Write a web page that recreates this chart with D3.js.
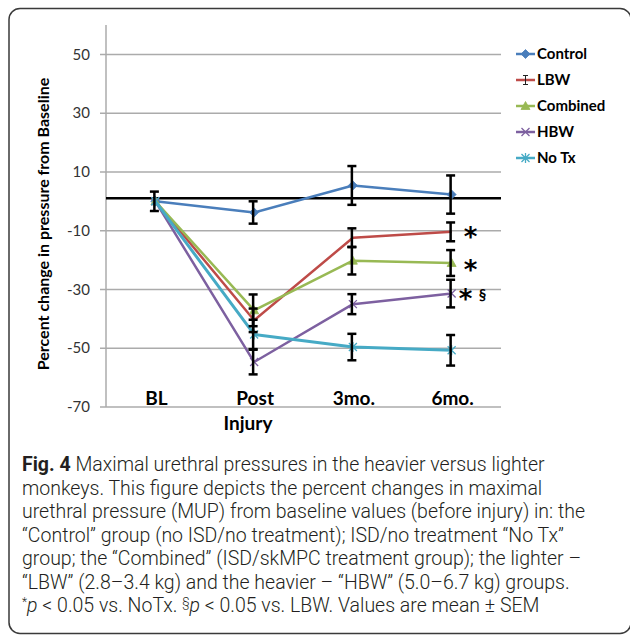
<!DOCTYPE html>
<html>
<head>
<meta charset="utf-8">
<script src="https://cdn.jsdelivr.net/npm/d3@7/dist/d3.min.js"></script>
<style>
  html, body { margin: 0; padding: 0; background: #fff; }
  svg { display: block; }
</style>
</head>
<body>
<svg id="chart" width="630" height="638"></svg>
<script>
// ---- data ----
const categories = ["BL", "Post", "3mo.", "6mo."];
const seriesNames = ["Control", "LBW", "Combined", "HBW", "No Tx"];
const controlValues  = [0, -3.8, 5.4, 2.3];
const controlErr     = [3.3, 3.8, 6.6, 6.5];
const lbwValues      = [0, -40.5, -12.4, -10.4];
const lbwErr         = [0, 4.0, 3.2, 3.2];
const combinedValues = [0, -37.1, -20.2, -21.0];
const combinedErr    = [0, 5.4, 4.7, 4.4];
const hbwValues      = [0, -54.7, -35.0, -31.4];
const hbwErr         = [0, 4.2, 3.4, 4.7];
const noTxValues     = [0, -45.3, -49.6, -50.7];
const noTxErr        = [0, 5.0, 4.5, 5.2];
const yTicks = [-70, -50, -30, -10, 10, 30, 50];
const yDomain = [-70, 60];
const refLineValue = 1;
const annotationSeries = ["LBW", "Combined", "HBW"];
const annotationText = ["*", "*", "*"];
const annotationExtra = ["", "", "§"];
const yTitle = "Percent change in pressure from Baseline";
const xTitle = "Injury";
const captionLines = [
  [{t:"Fig. 4", b:true}, {t:" Maximal urethral pressures in the heavier versus lighter"}],
  [{t:"monkeys. This figure depicts the percent changes in maximal"}],
  [{t:"urethral pressure (MUP) from baseline values (before injury) in: the"}],
  [{t:"\u201CControl\u201D group (no ISD/no treatment); ISD/no treatment \u201CNo Tx\u201D"}],
  [{t:"group; the \u201CCombined\u201D (ISD/skMPC treatment group); the lighter \u2013"}],
  [{t:"\u201CLBW\u201D (2.8\u20133.4 kg) and the heavier \u2013 \u201CHBW\u201D (5.0\u20136.7 kg) groups."}],
  [{t:"*", sup:true}, {t:"p", i:true}, {t:" < 0.05 vs. NoTx. "}, {t:"\u00A7", sup:true}, {t:"p", i:true}, {t:" < 0.05 vs. LBW. Values are mean \u00B1 SEM"}]
];

// ---- styles ----
const colors = {"Control":"#4A7EBB","LBW":"#BE4B48","Combined":"#98B954","HBW":"#7D60A0","No Tx":"#46AAC5"};
const markers = {"Control":"diamond","LBW":"none","Combined":"triangle","HBW":"x","No Tx":"star"};
const widths = {"Control":2.5,"LBW":2.5,"Combined":2.5,"HBW":2.5,"No Tx":3};

const series = [
  {name:"Control", values:controlValues, err:controlErr},
  {name:"LBW", values:lbwValues, err:lbwErr},
  {name:"Combined", values:combinedValues, err:combinedErr},
  {name:"HBW", values:hbwValues, err:hbwErr},
  {name:"No Tx", values:noTxValues, err:noTxErr}
];

const svg = d3.select("#chart");
const chartFont = "Lato, 'Open Sans', sans-serif";

// outer frame
svg.append("rect").attr("x", 9).attr("y", 8.5).attr("width", 622).attr("height", 625)
  .attr("rx", 11).attr("fill", "#fff").attr("stroke", "#3a3a3a").attr("stroke-width", 1.5);

const plot = {left: 106, right: 501, top: 25, bottom: 407};
const x = d3.scalePoint().domain(categories).range([plot.left, plot.right]).padding(0.5);
const y = d3.scaleLinear().domain(yDomain).range([plot.bottom, plot.top]);

// gridlines
svg.append("g").selectAll("line").data(yTicks).join("line")
  .attr("x1", plot.left - 6).attr("x2", plot.right)
  .attr("y1", d => y(d)).attr("y2", d => y(d))
  .attr("stroke", "#ABABAB").attr("stroke-width", 1.5);

// y axis line
svg.append("line").attr("x1", plot.left).attr("x2", plot.left)
  .attr("y1", plot.top).attr("y2", plot.bottom)
  .attr("stroke", "#ABABAB").attr("stroke-width", 1.5);

// y tick labels
svg.append("g").selectAll("text").data(yTicks).join("text")
  .attr("x", 90).attr("y", d => y(d)).attr("dy", "0.35em")
  .attr("text-anchor", "end").attr("font-family", chartFont).attr("font-size", 15)
  .attr("fill", "#333").text(d => d);

// reference line
svg.append("line").attr("x1", plot.left).attr("x2", plot.right)
  .attr("y1", y(refLineValue)).attr("y2", y(refLineValue))
  .attr("stroke", "#000").attr("stroke-width", 2.5);

// category labels
svg.append("g").selectAll("text").data(categories).join("text")
  .attr("x", d => x(d) + 1).attr("y", 405)
  .attr("text-anchor", "middle").attr("font-family", chartFont).attr("font-weight", "bold")
  .attr("font-size", 19).attr("fill", "#000").text(d => d);

// x title
svg.append("text").attr("x", 248).attr("y", 430).attr("text-anchor", "middle")
  .attr("font-family", chartFont).attr("font-weight", "bold").attr("font-size", 19)
  .attr("fill", "#000").text(xTitle);

// y title
svg.append("text").attr("transform", "translate(49,224) rotate(-90)")
  .attr("text-anchor", "middle").attr("font-family", chartFont).attr("font-weight", "bold")
  .attr("font-size", 16).attr("fill", "#000").text(yTitle);

// marker drawing
function drawMarker(g, type, cx, cy, color) {
  if (type === "diamond") {
    g.append("path").attr("d", `M${cx},${cy-4.5}L${cx+4.5},${cy}L${cx},${cy+4.5}L${cx-4.5},${cy}Z`)
      .attr("fill", color).attr("stroke", color).attr("stroke-width", 0.8);
  } else if (type === "triangle") {
    g.append("path").attr("d", `M${cx},${cy-4.5}L${cx+4.5},${cy+3.5}L${cx-4.5},${cy+3.5}Z`)
      .attr("fill", color).attr("stroke", color).attr("stroke-width", 0.8);
  } else if (type === "x") {
    g.append("path").attr("d", `M${cx-4},${cy-4}L${cx+4},${cy+4}M${cx-4},${cy+4}L${cx+4},${cy-4}`)
      .attr("stroke", color).attr("stroke-width", 1.3).attr("fill", "none");
  } else if (type === "star") {
    g.append("path").attr("d", `M${cx-4},${cy-4}L${cx+4},${cy+4}M${cx-4},${cy+4}L${cx+4},${cy-4}M${cx},${cy-5}L${cx},${cy+5}`)
      .attr("stroke", color).attr("stroke-width", 1.3).attr("fill", "none");
  }
}

const line = d3.line().x((d, i) => x(categories[i])).y(d => y(d));

// lines + markers
series.forEach(s => {
  const g = svg.append("g");
  g.append("path").attr("d", line(s.values)).attr("fill", "none")
    .attr("stroke", colors[s.name]).attr("stroke-width", widths[s.name])
    .attr("stroke-linejoin", "round");
  s.values.forEach((v, i) => drawMarker(g, markers[s.name], x(categories[i]), y(v), colors[s.name]));
});

// error bars
const eg = svg.append("g");
series.forEach(s => {
  s.values.forEach((v, i) => {
    const e = s.err[i];
    if (!e) return;
    const cx = x(categories[i]) - 1;
    const y1 = y(v + e), y2 = y(v - e);
    eg.append("line").attr("x1", cx).attr("x2", cx).attr("y1", y1).attr("y2", y2)
      .attr("stroke", "#000").attr("stroke-width", 2.5);
    [y1, y2].forEach(yy => eg.append("line").attr("x1", cx - 4.5).attr("x2", cx + 4.5)
      .attr("y1", yy).attr("y2", yy).attr("stroke", "#000").attr("stroke-width", 2.5));
  });
});

// significance annotations
annotationSeries.forEach((name, k) => {
  const s = series.find(d => d.name === name);
  const last = categories.length - 1;
  const ax = x(categories[last]) + (annotationExtra[k] ? 14 : 19);
  const ay = y(s.values[last]) + (name === "Combined" ? 2 : 0);
  svg.append("text").attr("x", ax).attr("y", ay + 14).attr("text-anchor", "middle")
    .attr("font-family", "'DejaVu Sans', sans-serif").attr("font-weight", "bold")
    .attr("font-size", 26).attr("fill", "#000").text(annotationText[k]);
  if (annotationExtra[k]) {
    svg.append("text").attr("x", ax + 17).attr("y", ay + 6).attr("text-anchor", "middle")
      .attr("font-family", chartFont).attr("font-weight", "bold")
      .attr("font-size", 15).attr("fill", "#000").text(annotationExtra[k]);
  }
});

// legend
const lg = svg.append("g");
seriesNames.forEach((name, i) => {
  const ly = 54 + i * 26;
  lg.append("line").attr("x1", 516).attr("x2", 535).attr("y1", ly).attr("y2", ly)
    .attr("stroke", colors[name]).attr("stroke-width", 2.5);
  if (markers[name] === "none") {
    lg.append("path").attr("d", `M525.5,${ly-4.5}L525.5,${ly+4.5}M523,${ly-4.5}L528,${ly-4.5}M523,${ly+4.5}L528,${ly+4.5}`)
      .attr("stroke", "#222").attr("stroke-width", 1);
  } else {
    drawMarker(lg, markers[name], 525.5, ly, colors[name]);
  }
  lg.append("text").attr("x", 537).attr("y", ly).attr("dy", "0.35em")
    .attr("font-family", chartFont).attr("font-weight", "bold").attr("font-size", 15)
    .attr("fill", "#000").text(name);
});

// caption
const cg = svg.append("g").attr("font-family", "Roboto, 'Liberation Sans', sans-serif").attr("font-size", 19.5)
  .attr("font-weight", 300).attr("fill", "#231F20");
captionLines.forEach((parts, i) => {
  const t = cg.append("text").attr("x", 22).attr("y", 471 + i * 23.5);
  parts.forEach(p => {
    const ts = t.append("tspan").text(p.t);
    if (p.b) ts.attr("font-weight", "bold");
    if (p.i) ts.attr("font-style", "italic");
    if (p.sup) ts.attr("font-size", 12).attr("baseline-shift", "6");
  });
});
</script>
</body>
</html>
